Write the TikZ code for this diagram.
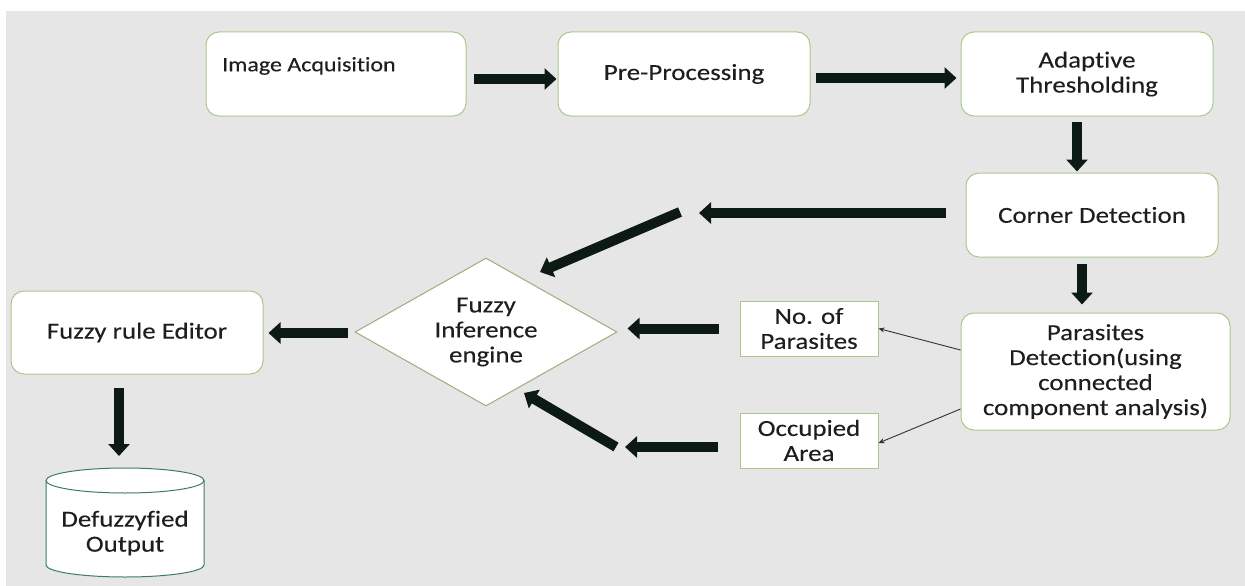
\documentclass[tikz,border=0pt]{standalone}
\usepackage{fontspec}
\setmainfont{Carlito}[FakeStretch=1.17,FakeBold=0.15,Ligatures=NoCommon]
\usetikzlibrary{arrows.meta,shapes.geometric,positioning}

\definecolor{bggray}{HTML}{E7E6E6}
\definecolor{boxgreen}{HTML}{A9C98A}
\definecolor{diagreen}{HTML}{A8A67C}
\definecolor{cylteal}{HTML}{3A7B69}
\definecolor{arrowdark}{HTML}{0D1A13}
\definecolor{textdark}{HTML}{1E1E1E}
\newcommand{\diagfont}{\fontsize{23pt}{25pt}\selectfont}

\tikzset{
  procbox/.style={draw=boxgreen, line width=1pt, fill=white, rounded corners=13pt,
    align=center, inner sep=0pt, font=\diagfont, text=textdark},
  databox/.style={draw=boxgreen, line width=1pt, fill=white,
    align=center, inner sep=0pt, font=\diagfont, text=textdark},
  bigarrow/.style={draw=arrowdark, line width=10pt, -{Triangle[length=12pt,width=21pt]}},
  thinarrow/.style={draw=black!80, line width=0.9pt, -{Stealth[length=6pt,width=5pt]}}
}

\begin{document}
\begin{tikzpicture}[x=1pt,y=1pt]
      \useasboundingbox (0,0) rectangle (1245,-586);
      \fill[white] (0,0) rectangle (1245,-586);
      \fill[bggray] (6,-11) rectangle (1245,-586);

      \node[procbox, minimum width=260pt, minimum height=84pt] (ia) at (336,-74) {};
      \node[anchor=west, inner sep=0pt, font=\fontsize{20.5pt}{23pt}\selectfont, text=textdark] (ialabel) at (222,-66) {Image Acquisition};
      \node[procbox, minimum width=252pt, minimum height=84pt] (pp) at (684,-74) {Pre-Processing};
      \node[procbox, minimum width=252pt, minimum height=84pt] (at) at (1087,-74) {Adaptive\\Thresholding};
      \node[procbox, minimum width=252pt, minimum height=84pt] (cd) at (1092,-215) {Corner Detection};
      \node[procbox, minimum width=269pt, minimum height=117pt] (pd) at (1095.5,-371.5) {Parasites\\Detection(using\\connected\\component analysis)};
      \node[databox, minimum width=138pt, minimum height=55pt] (nop) at (809,-328.5) {No. of\\Parasites};
      \node[databox, minimum width=138pt, minimum height=55pt] (occ) at (809,-440.5) {Occupied\\Area};
      \node[shape=diamond, draw=diagreen, line width=1pt, fill=white, aspect=1.77, inner sep=0pt,
        minimum width=262pt, minimum height=148pt, align=center, font=\diagfont, text=textdark] (fie) at (486,-332) {Fuzzy\\Inference\\engine};
      \node[procbox, minimum width=252pt, minimum height=83pt] (fre) at (137,-332.5) {Fuzzy rule Editor};

      % output cylinder
      \fill[white] (46,-480.5) -- (46,-565) arc[start angle=180, end angle=360, x radius=79pt, y radius=12pt]
        -- (204,-480.5) arc[start angle=0, end angle=180, x radius=79pt, y radius=12.5pt] -- cycle;
      \draw[cylteal, line width=1pt] (46,-480.5) -- (46,-565) arc[start angle=180, end angle=360, x radius=79pt, y radius=12pt]
        -- (204,-480.5);
      \draw[cylteal, line width=1pt] (125,-480.5) ellipse [x radius=79pt, y radius=12.5pt];
      \coordinate (cyltop) at (125,-468);
      \node[align=center, font=\diagfont, text=textdark] (dfo) at (125,-533) {Defuzzyfied\\Output};

      \coordinate (cdtip) at (699,-213);
      \coordinate (diagtail) at (680,-212);
      \coordinate (diagtip) at (540,-272);
      \coordinate (occtip) at (625,-447);
      \coordinate (lowtail) at (616,-447);
      \coordinate (lowtip) at (524,-393);

      \draw[bigarrow, shorten <=7pt, shorten >=1pt] ([yshift=-5pt]ia.east) -- ([yshift=-5pt]pp.west);
      \draw[bigarrow, shorten <=5pt, shorten >=4pt] ([yshift=-4pt]pp.east) -- ([yshift=-4pt]at.west);
      \draw[bigarrow, shorten <=5pt, shorten >=1pt] ([xshift=-10pt]at.south) -- ([xshift=-10pt]at.south |- cd.north);
      \draw[bigarrow, shorten <=6pt, shorten >=8pt] ([xshift=-10pt]cd.south) -- ([xshift=-10pt]cd.south |- pd.north);
      \draw[bigarrow, shorten <=20pt] ([yshift=2pt]cd.west) -- (cdtip);
      \draw[bigarrow] (diagtail) -- (diagtip);
      \draw[bigarrow, shorten <=21pt, shorten >=10pt] (nop.west) -- (nop.west -| fie.east);
      \draw[bigarrow, shorten <=22pt] ([yshift=-6.5pt]occ.west) -- (occtip);
      \draw[bigarrow] (lowtail) -- (lowtip);
      \draw[bigarrow, shorten <=7pt, shorten >=5pt] ([yshift=-1pt]fie.west) -- ([yshift=-1pt]fie.west -| fre.east);
      \draw[bigarrow, shorten <=13pt, shorten >=12pt] ([xshift=-18pt]fre.south) -- ([xshift=-18pt]fre.south |- cyltop);
      \draw[thinarrow] ([yshift=21.5pt]pd.west) -- (nop.east);
      \draw[thinarrow] ([yshift=-37.5pt]pd.west) -- ([yshift=-2.5pt]occ.east);
   \end{tikzpicture}
\end{document}
